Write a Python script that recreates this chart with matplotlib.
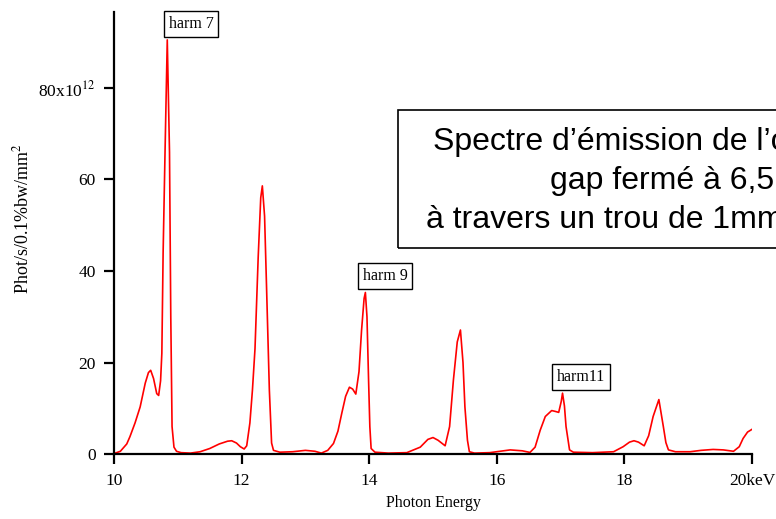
import matplotlib
matplotlib.use('Agg')
import matplotlib.pyplot as plt
from matplotlib.patches import Rectangle

plt.rcParams['font.family'] = ['Liberation Serif', 'DejaVu Serif']
plt.rcParams['mathtext.fontset'] = 'stix'

# spectre (keV, 1e12 phot/s/0.1%bw/mm2)
energy = [10.00, 10.10, 10.20, 10.25, 10.33, 10.41, 10.49, 10.54, 10.575, 10.62,
          10.67, 10.70, 10.73, 10.75, 10.77, 10.80, 10.835, 10.87, 10.89, 10.91,
          10.94, 10.98, 11.05, 11.20, 11.35, 11.50, 11.65, 11.78, 11.845, 11.92,
          11.98, 12.04, 12.08, 12.13, 12.17, 12.21, 12.26, 12.30, 12.325, 12.36,
          12.39, 12.435, 12.47, 12.50, 12.60, 12.80, 13.00, 13.15, 13.25, 13.35,
          13.44, 13.51, 13.57, 13.63, 13.69, 13.74, 13.79, 13.84, 13.88, 13.92,
          13.94, 13.965, 13.99, 14.01, 14.03, 14.09, 14.30, 14.59, 14.80, 14.92,
          15.00, 15.08, 15.19, 15.26, 15.32, 15.38, 15.43, 15.47, 15.50, 15.54,
          15.57, 15.65, 15.89, 16.05, 16.21, 16.40, 16.52, 16.60, 16.68, 16.76,
          16.86, 16.92, 16.97, 17.01, 17.03, 17.06, 17.085, 17.14, 17.20, 17.50,
          17.83, 17.98, 18.08, 18.15, 18.22, 18.31, 18.38, 18.45, 18.54, 18.61,
          18.65, 18.69, 18.80, 19.03, 19.20, 19.39, 19.55, 19.71, 19.80, 19.86,
          19.93, 20.00]
flux = [0.1, 0.6, 2.2, 3.8, 6.8, 10.3, 15.5, 17.8, 18.3, 16.5,
        13.2, 12.8, 16.0, 22.0, 44.0, 66.0, 90.5, 66.0, 30.0, 6.0,
        1.5, 0.6, 0.3, 0.2, 0.5, 1.2, 2.2, 2.8, 2.9, 2.4,
        1.6, 1.1, 1.8, 6.8, 14.0, 23.0, 43.0, 56.0, 58.6, 52.0,
        37.0, 14.0, 2.4, 0.8, 0.4, 0.5, 0.8, 0.6, 0.2, 0.8,
        2.3, 5.0, 8.9, 12.6, 14.6, 14.2, 13.1, 18.0, 27.0, 34.0,
        35.3, 30.0, 16.2, 6.0, 1.2, 0.4, 0.2, 0.3, 1.5, 3.2,
        3.6, 3.0, 1.8, 6.0, 16.2, 24.5, 27.1, 20.0, 10.3, 3.0,
        0.5, 0.2, 0.3, 0.6, 0.9, 0.7, 0.35, 1.5, 5.2, 8.2,
        9.5, 9.3, 9.1, 11.5, 13.3, 10.5, 6.0, 0.9, 0.4, 0.3,
        0.5, 1.6, 2.6, 2.9, 2.6, 1.8, 4.0, 8.2, 11.9, 6.0,
        2.5, 0.9, 0.5, 0.5, 0.8, 1.0, 0.9, 0.6, 1.6, 3.4,
        4.8, 5.4]

xticks = [10, 12, 14, 16, 18, 20]
xticklabels = ['10', '12', '14', '16', '18', '20keV']
yticks = [0, 20, 40, 60, 80]
yticklabels = ['0', '20', '40', '60', r'80x10$^{12}$']

harm_labels = ['harm 7', 'harm 9', 'harm11']
harm_pos = [(11.21, 94.0), (14.25, 38.9), (17.32, 16.8)]

W, H = 776.0, 519.0
fig = plt.figure(figsize=(7.76, 5.19), dpi=100)
ax = fig.add_axes([0.1469, 0.1252, 0.8222, 0.8517])
ax.plot(energy, flux, color='red', lw=1.2)

ax.set_xlim(10, 20)
ax.set_ylim(0, 96.6)
ax.set_xticks(xticks)
ax.set_xticklabels(xticklabels)
ax.set_yticks(yticks)
ax.set_yticklabels(yticklabels)
for s in ['top', 'right']:
    ax.spines[s].set_visible(False)
for s in ['left', 'bottom']:
    ax.spines[s].set_linewidth(1.6)
ax.tick_params(axis='both', direction='out', length=7, width=1.6, labelsize=12.5)
ax.tick_params(axis='x', pad=7)
ax.tick_params(axis='y', pad=6)
ax.set_xlabel('Photon Energy', fontsize=11.5)
fig.text(22 / W, 1 - 219 / H, r'Phot/s/0.1%bw/mm$^2$', rotation=90,
         ha='center', va='center', fontsize=13)

for lab, (xe, yv) in zip(harm_labels, harm_pos):
    ax.text(xe, yv, lab, ha='center', va='center', fontsize=11.5,
            bbox=dict(boxstyle='square,pad=0.3', fc='white', ec='black', lw=1.0),
            clip_on=False)

# cadre du titre (coupé par le bord droit comme l'original)
fig.patches.append(Rectangle((398 / W, 1 - 248 / H), 420 / W, 138 / H,
                             transform=fig.transFigure, fill=False,
                             ec='black', lw=1.2))
title_lines = ["Spectre d\u2019émission de l\u2019onduleur",
               "gap fermé à 6,5 mm",
               "à travers un trou de 1mm\u00b2"]
title_x = [433, 550, 426]
title_y = [150, 189, 228]
for line, px, py in zip(title_lines, title_x, title_y):
    fig.text(px / W, 1 - py / H, line, ha='left', va='baseline',
             fontsize=23, family=['Liberation Sans', 'DejaVu Sans'])

plt.savefig('out.png', dpi=100)
plt.close()
